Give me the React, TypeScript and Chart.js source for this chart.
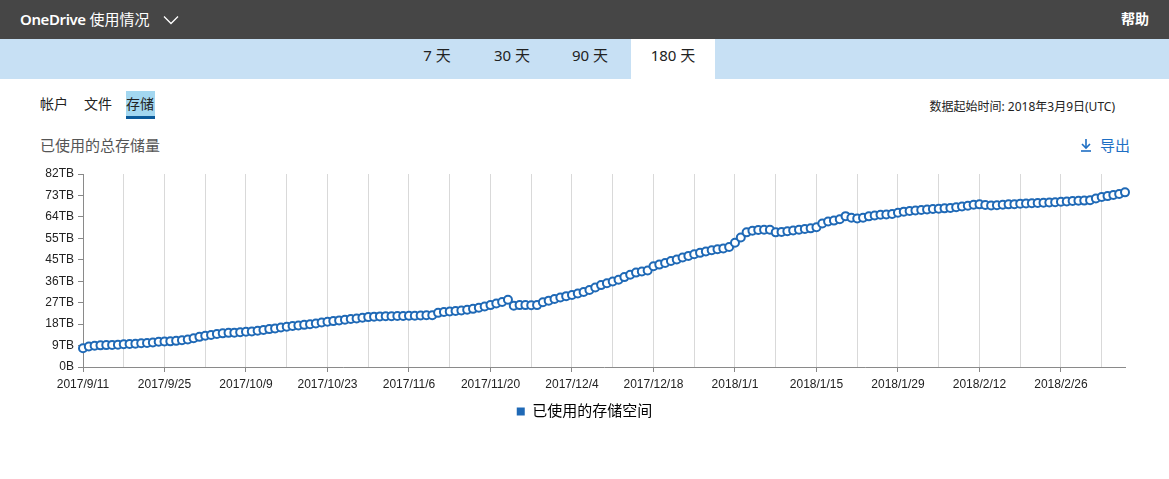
import { useEffect, useRef } from 'react';
import { Chart, registerables } from 'chart.js';

Chart.register(...registerables);

// Daily used storage (TB), 2017/9/11 .. 2018/3/9 (180 days)
const storageTB = [
  8.0, 8.7, 9.0, 9.2, 9.3, 9.4, 9.5, 9.7, 9.8, 9.9,
  10.1, 10.2, 10.4, 10.7, 10.8, 10.9, 11.1, 11.4, 11.7, 12.2,
  12.8, 13.3, 13.6, 14.0, 14.3, 14.5, 14.6, 14.8, 15.0, 15.1,
  15.4, 15.7, 16.1, 16.4, 16.8, 17.1, 17.4, 17.6, 17.9, 18.2,
  18.5, 18.9, 19.2, 19.5, 19.8, 20.1, 20.4, 20.6, 20.9, 21.2,
  21.4, 21.5, 21.6, 21.6, 21.7, 21.7, 21.8, 21.8, 21.9, 22.0,
  22.0, 23.0, 23.4, 23.6, 23.8, 24.0, 24.3, 24.7, 25.2, 25.7,
  26.3, 27.0, 27.6, 28.6, 26.0, 26.3, 26.3, 26.2, 26.3, 27.5,
  28.2, 28.9, 29.5, 30.1, 30.6, 31.2, 31.9, 32.7, 33.8, 34.8,
  35.6, 36.3, 37.1, 38.2, 39.2, 40.1, 40.6, 41.0, 42.8, 43.5,
  44.2, 45.0, 45.7, 46.5, 47.2, 47.9, 48.5, 49.1, 49.6, 50.0,
  50.4, 51.0, 52.8, 55.0, 57.2, 57.9, 58.2, 58.3, 58.3, 57.2,
  57.4, 57.7, 58.0, 58.3, 58.6, 58.9, 59.4, 61.0, 61.8, 62.2,
  62.8, 64.1, 63.4, 63.1, 63.4, 64.0, 64.4, 64.7, 64.8, 65.0,
  65.5, 66.0, 66.3, 66.5, 66.7, 66.9, 67.1, 67.2, 67.4, 67.6,
  67.9, 68.2, 68.5, 68.9, 69.1, 68.8, 68.6, 68.7, 68.9, 69.1,
  69.2, 69.4, 69.5, 69.6, 69.7, 69.8, 69.9, 70.0, 70.2, 70.3,
  70.5, 70.6, 70.7, 70.9, 71.6, 72.2, 72.6, 73.1, 73.5, 74.2,
];

// labels on every other weekly gridline (every 14 days)
const xTickLabels = [
  '2017/9/11', '2017/9/25', '2017/10/9', '2017/10/23', '2017/11/6', '2017/11/20',
  '2017/12/4', '2017/12/18', '2018/1/1', '2018/1/15', '2018/1/29', '2018/2/12', '2018/2/26',
];
const yTickLabels = ['0B', '9TB', '18TB', '27TB', '36TB', '45TB', '55TB', '64TB', '73TB', '82TB'];
const yMaxTB = 82;
const gridStepDays = 7;
const seriesLabel = '已使用的存储空间';
const periodTabs = ['7 天', '30 天', '90 天', '180 天'];
const subTabs = ['帐户', '文件', '存储'];

const BLUE = '#1f69b6';
const FONT = '"Noto Sans", "Noto Sans CJK SC", sans-serif';
const AXIS_FONT = '"Liberation Sans", Arial, sans-serif';

function StorageChart() {
  const ref = useRef<HTMLCanvasElement>(null);
  useEffect(() => {
    if (!ref.current) return;
    const chart = new Chart(ref.current, {
      type: 'line',
      data: {
        datasets: [
          {
            label: seriesLabel,
            data: storageTB.map((v, i) => ({ x: i, y: v })),
            borderColor: BLUE,
            borderWidth: 2,
            pointRadius: 4,
            pointBorderWidth: 2,
            pointBackgroundColor: '#ffffff',
            pointBorderColor: BLUE,
            fill: false,
            tension: 0,
            clip: 8,
            yAxisID: 'y',
          },
        ],
      },
      options: {
        responsive: false,
        animation: false,
        layout: { padding: { left: 0, right: 0, top: 14, bottom: 11 } },
        plugins: {
          tooltip: { enabled: false },
          legend: {
            position: 'bottom',
            labels: {
              boxWidth: 8,
              boxHeight: 8,
              padding: 10,
              color: '#333',
              font: { size: 15, family: FONT },
              generateLabels: () => [
                {
                  text: seriesLabel,
                  fillStyle: BLUE,
                  strokeStyle: BLUE,
                  lineWidth: 0,
                  hidden: false,
                  datasetIndex: 0,
                },
              ],
            },
          },
        },
        scales: {
          x: {
            type: 'linear',
            min: 0,
            max: storageTB.length - 1,
            afterBuildTicks: (s: any) => {
              const n = Math.floor((storageTB.length - 1) / gridStepDays) + 1;
              s.ticks = Array.from({ length: n }, (_, i) => ({ value: i * gridStepDays }));
            },
            afterFit: (s: any) => {
              s.height = 27;
            },
            ticks: {
              autoSkip: false,
              maxRotation: 0,
              minRotation: 0,
              padding: 5,
              color: '#222',
              font: { size: 12, family: AXIS_FONT },
              callback: (_v: any, i: number) => (i % 2 === 0 ? xTickLabels[i / 2] ?? '' : ''),
            },
            grid: {
              color: (c: any) => (c.index === 0 ? 'rgba(0,0,0,0)' : '#d9d9d9'),
              tickColor: (c: any) => (c.index % 2 === 0 ? '#888' : 'rgba(0,0,0,0)'),
              tickLength: 5,
              lineWidth: 1,
            },
            border: { color: '#8a8a8a', width: 1 },
          },
          y: {
            min: 0,
            max: yMaxTB,
            afterBuildTicks: (s: any) => {
              s.ticks = yTickLabels.map((_, i) => ({ value: (i * yMaxTB) / (yTickLabels.length - 1) }));
            },
            afterFit: (s: any) => {
              s.width = 83;
            },
            ticks: {
              padding: 4,
              color: '#222',
              font: { size: 12, family: AXIS_FONT },
              callback: (_v: any, i: number) => yTickLabels[i],
            },
            grid: {
              drawOnChartArea: false,
              tickLength: 5,
              tickColor: '#888',
            },
            border: { color: '#8a8a8a', width: 1 },
          },
          // empty right-hand margin so the legend stays centred on the whole width
          yRight: {
            position: 'right',
            min: 0,
            max: yMaxTB,
            afterFit: (s: any) => {
              s.width = 44;
            },
            ticks: { display: false },
            grid: { display: false, drawTicks: false },
            border: { display: false },
          },
        },
      },
    } as any);
    return () => chart.destroy();
  }, []);
  return (
    <canvas
      ref={ref}
      width={1169}
      height={280}
      style={{ position: 'absolute', left: 0, top: 160, width: 1169, height: 280 }}
    />
  );
}

export default function App() {
  const tabCenters = [437, 512, 590, 673];
  const subLefts = [40, 84, 126];
  return (
    <div
      style={{
        position: 'absolute',
        left: 0,
        top: 0,
        width: 1169,
        height: 479,
        background: '#fff',
        fontFamily: FONT,
        overflow: 'hidden',
      }}
    >
      {/* header */}
      <div style={{ position: 'absolute', left: 0, top: 0, width: 1169, height: 39, background: '#464646' }} />
      <div
        style={{
          position: 'absolute',
          left: 20,
          top: 9,
          lineHeight: '20px',
          fontSize: 15,
          color: '#fff',
          whiteSpace: 'nowrap',
        }}
      >
        <span style={{ fontWeight: 600, letterSpacing: -0.4 }}>OneDrive</span> 使用情况
      </div>
      <svg style={{ position: 'absolute', left: 163, top: 15 }} width={16} height={10}>
        <polyline points="1,1.5 8,8.5 15,1.5" fill="none" stroke="#fff" strokeWidth={1.3} />
      </svg>
      <div
        style={{
          position: 'absolute',
          right: 20,
          top: 9,
          lineHeight: '20px',
          fontSize: 14,
          fontWeight: 700,
          color: '#fff',
        }}
      >
        帮助
      </div>

      {/* period tabs */}
      <div style={{ position: 'absolute', left: 0, top: 39, width: 1169, height: 40, background: '#c7e0f4' }} />
      <div style={{ position: 'absolute', left: 631, top: 39, width: 84, height: 40, background: '#fff' }} />
      {periodTabs.map((t, i) => (
        <div
          key={t}
          style={{
            position: 'absolute',
            left: tabCenters[i] - 40,
            width: 80,
            top: 45,
            lineHeight: '20px',
            textAlign: 'center',
            fontSize: 15,
            color: '#222',
            whiteSpace: 'nowrap',
          }}
        >
          {t}
        </div>
      ))}

      {/* sub tabs */}
      <div style={{ position: 'absolute', left: 126, top: 91, width: 29, height: 27, background: '#a3d7f0' }} />
      <div style={{ position: 'absolute', left: 126, top: 116, width: 29, height: 3, background: '#0b5a9a' }} />
      {subTabs.map((t, i) => (
        <div
          key={t}
          style={{
            position: 'absolute',
            left: subLefts[i],
            top: 94,
            lineHeight: '20px',
            fontSize: 14,
            color: '#222',
            whiteSpace: 'nowrap',
          }}
        >
          {t}
        </div>
      ))}
      <div
        style={{
          position: 'absolute',
          right: 54,
          top: 99,
          lineHeight: '16px',
          fontSize: 12,
          color: '#222',
          whiteSpace: 'nowrap',
        }}
      >
        数据起始时间: 2018年3月9日(UTC)
      </div>

      {/* chart title and export */}
      <div
        style={{
          position: 'absolute',
          left: 40,
          top: 135,
          lineHeight: '20px',
          fontSize: 15,
          color: '#555',
          whiteSpace: 'nowrap',
        }}
      >
        已使用的总存储量
      </div>
      <svg style={{ position: 'absolute', left: 1080, top: 138 }} width={12} height={14}>
        <line x1={6} y1={1} x2={6} y2={10} stroke="#1e6fc4" strokeWidth={1.6} />
        <polyline points="2,6 6,10 10,6" fill="none" stroke="#1e6fc4" strokeWidth={1.6} />
        <line x1={1} y1={13} x2={11} y2={13} stroke="#1e6fc4" strokeWidth={1.6} />
      </svg>
      <div
        style={{
          position: 'absolute',
          left: 1100,
          top: 135,
          lineHeight: '20px',
          fontSize: 15,
          color: '#1e6fc4',
          whiteSpace: 'nowrap',
        }}
      >
        导出
      </div>

      <StorageChart />
    </div>
  );
}
